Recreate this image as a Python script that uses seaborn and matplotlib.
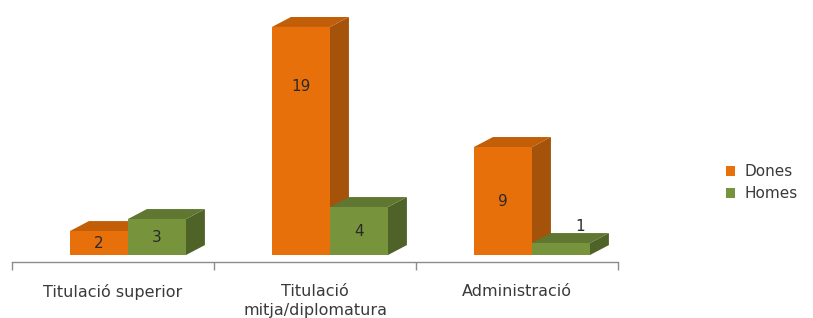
import matplotlib
matplotlib.use("Agg")
import matplotlib.pyplot as plt
from matplotlib.patches import Polygon, Patch
import pandas as pd
import seaborn as sns

# data
categories = ["Titulació superior", "Titulació\nmitja/diplomatura", "Administració"]
dones = [2, 19, 9]
homes = [3, 4, 1]
series = ["Dones", "Homes"]

df = pd.DataFrame({
    "categoria": categories * 2,
    "valor": dones + homes,
    "sexe": ["Dones"] * 3 + ["Homes"] * 3,
})

front = {"Dones": "#E8700A", "Homes": "#77933C"}
side = {"Dones": "#A5520A", "Homes": "#4F6228"}
top = {"Dones": "#C25E08", "Homes": "#5F7730"}
text_col = "#3A3A3A"

sns.set_style("white")
plt.rcParams["font.family"] = ["DejaVu Sans"]

fig = plt.figure(figsize=(8.13, 3.18), dpi=100)
ax = fig.add_axes([12 / 813, 56 / 318, 606 / 813, 257 / 318])

sns.barplot(data=df, x="categoria", y="valor", hue="sexe", hue_order=series,
            palette=front, saturation=1, width=0.574, ax=ax, legend=False,
            edgecolor="none", linewidth=0)

# fake 3D depth (in data units)
dx, dy = 0.094, 0.83

for k, (name, cont) in enumerate(zip(series, ax.containers)):
    for bar in cont:
        x, w, h = bar.get_x(), bar.get_width(), bar.get_height()
        bar.set_zorder(2 + 2 * k)
        s = Polygon([(x + w, 0), (x + w + dx, dy), (x + w + dx, h + dy), (x + w, h)],
                    closed=True, facecolor=side[name], edgecolor="none", zorder=1 + 2 * k)
        t = Polygon([(x, h), (x + dx, h + dy), (x + w + dx, h + dy), (x + w, h)],
                    closed=True, facecolor=top[name], edgecolor="none", zorder=1 + 2 * k)
        ax.add_patch(s)
        ax.add_patch(t)
        cx = x + w / 2
        if h >= 2:
            ly = max(h / 2, h - 5)
            ax.text(cx, ly, f"{int(h)}", ha="center", va="center", fontsize=11,
                    color="#2A2A2A", zorder=10)
        else:
            ax.text(cx + dx, h + 1.4, f"{int(h)}", ha="center", va="center",
                    fontsize=11, color="#2A2A2A", zorder=10)

ax.set_xlim(-0.574, 2.426)
ax.set_ylim(-0.58, 20.83)

# category boundary ticks, labels centred between them
ax.set_xticks([-0.574, 0.426, 1.426, 2.426])
ax.set_xticklabels([])
ax.set_xticks([-0.074, 0.926, 1.926], minor=True)
ax.set_xticklabels(categories, minor=True, fontsize=11.5, color=text_col,
                   linespacing=1.3)
ax.tick_params(axis="x", which="major", direction="out", length=6, width=1,
               color="#8C8C8C", bottom=True)
ax.tick_params(axis="x", which="minor", length=0, pad=16)
ax.set_yticks([])
ax.set_xlabel("")
ax.set_ylabel("")

for sp in ["top", "right", "left"]:
    ax.spines[sp].set_visible(False)
ax.spines["bottom"].set_color("#8C8C8C")
ax.spines["bottom"].set_linewidth(1)

handles = [Patch(facecolor=front[n], edgecolor="none", label=n) for n in series]
fig.legend(handles=handles, loc="center left", bbox_to_anchor=(0.876, 0.425),
           frameon=False, fontsize=11, handlelength=0.6, handleheight=0.6,
           handletextpad=0.6, labelspacing=0.45, labelcolor=text_col)

fig.savefig("out.png", dpi=100)
